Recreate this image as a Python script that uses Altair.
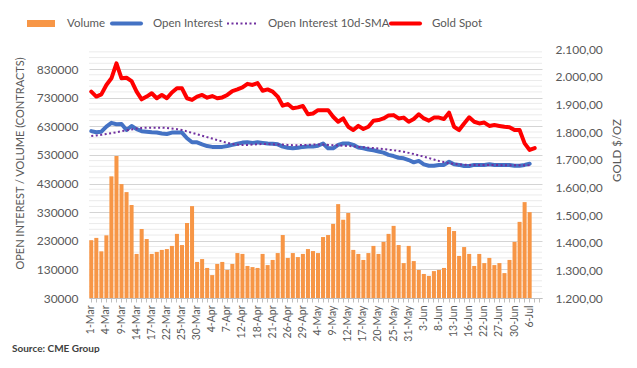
import altair as alt
import pandas as pd

dates = [
    "1-Mar", "2-Mar", "3-Mar", "4-Mar", "7-Mar", "8-Mar", "9-Mar", "10-Mar", "11-Mar", "14-Mar",
    "15-Mar", "16-Mar", "17-Mar", "18-Mar", "21-Mar", "22-Mar", "23-Mar", "24-Mar", "25-Mar", "28-Mar",
    "29-Mar", "30-Mar", "31-Mar", "1-Apr", "4-Apr", "5-Apr", "6-Apr", "7-Apr", "8-Apr", "11-Apr",
    "12-Apr", "13-Apr", "14-Apr", "18-Apr", "19-Apr", "20-Apr", "21-Apr", "22-Apr", "25-Apr", "26-Apr",
    "27-Apr", "28-Apr", "29-Apr", "2-May", "3-May", "4-May", "5-May", "6-May", "9-May", "10-May",
    "11-May", "12-May", "13-May", "16-May", "17-May", "18-May", "19-May", "20-May", "23-May", "24-May",
    "25-May", "26-May", "27-May", "31-May", "1-Jun", "2-Jun", "3-Jun", "6-Jun", "7-Jun", "8-Jun",
    "9-Jun", "10-Jun", "13-Jun", "14-Jun", "15-Jun", "16-Jun", "17-Jun", "21-Jun", "22-Jun", "23-Jun",
    "24-Jun", "27-Jun", "28-Jun", "29-Jun", "30-Jun", "1-Jul", "5-Jul", "6-Jul", "7-Jul", "8-Jul",
]

tick_labels = [
    "1-Mar", "4-Mar", "9-Mar", "14-Mar", "17-Mar", "22-Mar", "25-Mar", "30-Mar", "4-Apr", "7-Apr",
    "12-Apr", "18-Apr", "21-Apr", "26-Apr", "29-Apr", "4-May", "9-May", "12-May", "17-May", "20-May",
    "25-May", "31-May", "3-Jun", "8-Jun", "13-Jun", "16-Jun", "22-Jun", "27-Jun", "30-Jun", "6-Jul",
]

volume = [
    232, 240, 193, 249, 455, 526, 428, 400, 355, 184,
    271, 236, 184, 191, 198, 201, 212, 254, 215, 292,
    351, 156, 166, 135, 110, 149, 156, 128, 149, 187,
    184, 142, 138, 135, 184, 145, 163, 187, 250, 170,
    187, 173, 184, 201, 194, 187, 243, 250, 289, 358,
    303, 327, 198, 184, 163, 187, 212, 184, 226, 254,
    282, 215, 152, 212, 159, 128, 114, 107, 124, 128,
    135, 278, 264, 177, 208, 184, 142, 184, 152, 170,
    145, 152, 117, 163, 226, 296, 365, 330,
]

open_interest = [
    613, 609, 611, 629, 642, 637, 638, 617, 631, 620,
    613, 611, 609, 608, 605, 603, 608, 608, 608, 588,
    574, 574, 567, 561, 558, 558, 558, 561, 565, 569,
    573, 574, 572, 574, 572, 570, 569, 567, 559, 555,
    553, 555, 558, 559, 559, 562, 570, 553, 553, 565,
    570, 570, 565, 556, 553, 549, 546, 542, 538, 530,
    526, 520, 518, 512, 504, 509, 497, 492, 492, 495,
    495, 506, 497, 495, 491, 491, 495, 495, 495, 497,
    495, 495, 495, 495, 492, 492, 495, 499,
]

oi_sma = [
    596, 598, 600, 603, 606, 609, 613, 616, 619, 622,
    624, 625, 625, 625, 625, 624, 622, 620, 617, 612,
    607, 602, 597, 592, 587, 582, 577, 572, 568, 566,
    565, 565, 566, 567, 568, 568, 567, 566, 566, 565,
    564, 564, 565, 565, 566, 566, 566, 565, 564, 563,
    562, 561, 560, 558, 557, 555, 554, 552, 550, 548,
    546, 544, 541, 537, 533, 528, 524, 519, 514, 509,
    505, 501, 499, 497, 496, 495, 495, 495, 495, 495,
    495, 494, 494, 494, 494, 494, 494, 494,
]

gold = [
    1946, 1928, 1936, 1970, 1994, 2048, 1994, 1996, 1984, 1946,
    1918, 1928, 1940, 1922, 1934, 1922, 1943, 1958, 1958, 1922,
    1916, 1928, 1934, 1924, 1930, 1922, 1925, 1934, 1948, 1954,
    1961, 1974, 1970, 1977, 1949, 1954, 1946, 1928, 1895, 1901,
    1886, 1889, 1894, 1864, 1867, 1879, 1879, 1879, 1855, 1837,
    1849, 1819, 1807, 1822, 1811, 1819, 1841, 1843, 1849, 1860,
    1861, 1849, 1852, 1837, 1847, 1864, 1849, 1841, 1852, 1852,
    1847, 1870, 1819, 1807, 1831, 1853, 1837, 1831, 1834, 1822,
    1825, 1822, 1819, 1817, 1807, 1807, 1759, 1735, 1742,
]

left_major = list(range(30000, 900001, 100000))
left_minor = [v for v in range(30000, 900001, 20000) if (v - 30000) % 100000 != 0]

n = len(volume)
df = pd.DataFrame({
    "date": dates[:n],
    "volume": [v * 1000 for v in volume],
    "oi": [v * 1000 for v in open_interest],
    "sma": [v * 1000 for v in oi_sma],
})
gdf = pd.DataFrame({"date": dates[:len(gold)], "gold": gold})
minor_df = pd.DataFrame({"gv": left_minor})

FONT = "Lato"
GREY = "#595959"

xenc = alt.X(
    "date:N",
    sort=dates,
    scale=alt.Scale(domain=dates, paddingInner=0.2, paddingOuter=0.05),
    axis=alt.Axis(
        title=None,
        labelExpr="indexof(" + str(tick_labels).replace("'", '"') + ", datum.value) >= 0 ? datum.value : ''",
        labelAngle=-90,
        labelOverlap=False,
        labelFont=FONT,
        labelFontSize=10.5,
        labelColor=GREY,
        labelPadding=3,
        tickColor="#BFBFBF",
        tickSize=4,
        domainColor="#BFBFBF",
        grid=False,
    ),
)

left_scale = alt.Scale(domain=[30000, 900000], zero=False, nice=False)

left_axis = alt.Axis(
    title="OPEN INTEREST / VOLUME (CONTRACTS)",
    values=left_major,
    format="d",
    grid=True,
    gridColor="#D4D4D4",
    gridWidth=1,
    ticks=False,
    domain=False,
    labelFont=FONT,
    labelFontSize=12,
    labelColor=GREY,
    labelPadding=11,
    titleFont=FONT,
    titleFontSize=11,
    titleFontWeight="normal",
    titleColor=GREY,
    titleBaseline="middle",
    titleX=-69,
    titleY=114,
)

grid_minor = alt.Chart(minor_df).mark_rule(strokeWidth=1, color="#EBEBEB").encode(
    x=alt.value(0), x2=alt.value(453),
    y=alt.Y("gv:Q", scale=left_scale, axis=left_axis),
)

bars = alt.Chart(df).mark_bar(color="#F79646").encode(
    x=xenc,
    y=alt.Y("volume:Q", scale=left_scale, axis=left_axis),
    y2=alt.datum(30000),
)

oi_line = alt.Chart(df).mark_line(color="#4472C4", strokeWidth=4, strokeJoin="round", strokeCap="round").encode(
    x=alt.X("date:N", sort=dates),
    y=alt.Y("oi:Q", scale=left_scale, axis=left_axis),
)

sma_line = alt.Chart(df).mark_line(color="#7030A0", strokeWidth=2, strokeDash=[2, 2.5]).encode(
    x=alt.X("date:N", sort=dates),
    y=alt.Y("sma:Q", scale=left_scale, axis=left_axis),
)

left = alt.layer(grid_minor, bars, oi_line, sma_line)

right_axis = alt.Axis(
    title="GOLD $/OZ",
    orient="right",
    values=list(range(1200, 2101, 100)),
    labelExpr="replace(replace(replace(format(datum.value, ',.2f'), ',', '_'), '.', ','), '_', '.')",
    grid=False,
    ticks=False,
    domain=False,
    labelFont=FONT,
    labelFontSize=12,
    labelColor=GREY,
    labelPadding=13,
    titleFont=FONT,
    titleFontSize=11.5,
    titleFontWeight="normal",
    titleColor=GREY,
    titleAngle=270,
    titleBaseline="middle",
    titleX=75,
    titleY=101,
)

gold_line = alt.Chart(gdf).mark_line(color="#FF0000", strokeWidth=4, strokeJoin="round", strokeCap="round").encode(
    x=alt.X("date:N", sort=dates),
    y=alt.Y("gold:Q", scale=alt.Scale(domain=[1200, 2100], zero=False, nice=False), axis=right_axis),
)

one = pd.DataFrame({"a": [0]})
legend_items = []
legend_items.append(alt.Chart(one).mark_rect(color="#F79646").encode(
    x=alt.value(-62), x2=alt.value(-34), y=alt.value(-29), y2=alt.value(-22)))
legend_items.append(alt.Chart(one).mark_rule(color="#4472C4", strokeWidth=4, strokeCap="round").encode(
    x=alt.value(23), x2=alt.value(52), y=alt.value(-25.5)))
legend_items.append(alt.Chart(one).mark_rule(color="#7030A0", strokeWidth=2, strokeDash=[2, 2.5]).encode(
    x=alt.value(138), x2=alt.value(168), y=alt.value(-25.5)))
legend_items.append(alt.Chart(one).mark_rule(color="#FF0000", strokeWidth=4, strokeCap="round").encode(
    x=alt.value(302), x2=alt.value(331), y=alt.value(-25.5)))
for label, xpos in [("Volume", -22), ("Open Interest", 64), ("Open Interest 10d-SMA", 179), ("Gold Spot", 343)]:
    legend_items.append(alt.Chart(one).mark_text(
        text=label, align="left", baseline="middle", font=FONT, fontSize=11.5, color=GREY
    ).encode(x=alt.value(xpos), y=alt.value(-25.5)))

source = alt.Chart(one).mark_text(
    text="Source: CME Group", align="left", baseline="middle", font=FONT, fontSize=10,
    fontWeight="bold", color="#404040"
).encode(x=alt.value(-77), y=alt.value(300))

chart = alt.layer(left, gold_line, *legend_items, source).resolve_scale(
    y="independent"
).properties(
    width=453,
    height=249,
    padding={"left": 81, "top": 41, "right": 87, "bottom": 55},
    autosize=alt.AutoSizeParams(type="none"),
    background="white",
).configure_view(stroke=None)

chart.save("out.html", embed_options={"renderer": "svg", "actions": False})
